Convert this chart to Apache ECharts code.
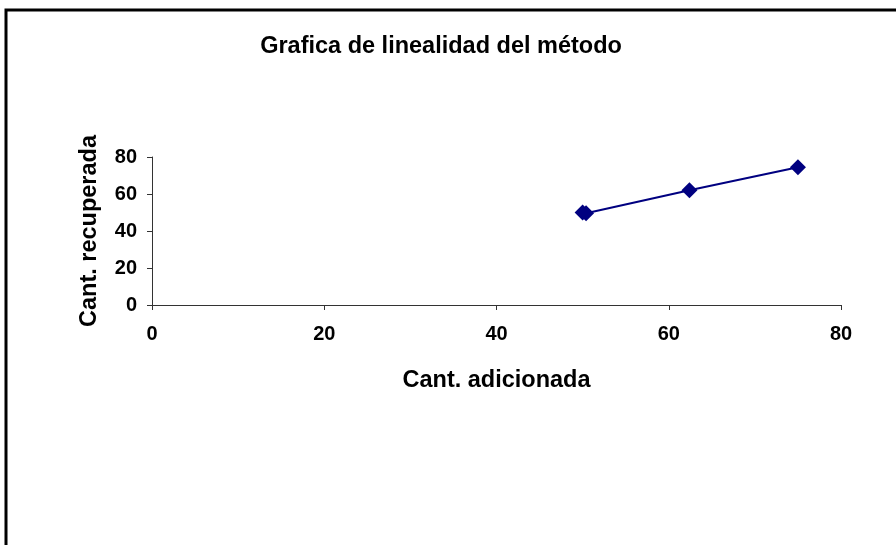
<!DOCTYPE html>
<html>
<head>
<meta charset="utf-8">
<script src="https://cdn.jsdelivr.net/npm/echarts@6/dist/echarts.min.js"></script>
<style>html,body{margin:0;padding:0;background:#fff}#c{width:896px;height:545px}</style>
</head>
<body>
<div id="c"></div>
<script>
var titleText = 'Grafica de linealidad del método';
var xName = 'Cant. adicionada';
var yName = 'Cant. recuperada';
var added = [50, 50.4, 62.4, 75];
var recovered = [50, 49.6, 62, 74.5];
var xTicks = {min: 0, max: 80, interval: 20};
var yTicks = {min: 0, max: 80, interval: 20};

var points = added.map(function (x, i) { return [x, recovered[i]]; });
var font = 'Arial, "Liberation Sans", sans-serif';
var chart = echarts.init(document.getElementById('c'), null, {renderer: 'canvas'});
chart.setOption({
  animation: false,
  backgroundColor: '#fff',
  title: {
    text: titleText, left: 436, top: 30, textAlign: 'center',
    textStyle: {fontFamily: font, fontSize: 23.5, fontWeight: 'bold', color: '#000'}
  },
  graphic: [{
    type: 'rect', shape: {x: 6, y: 10, width: 1000, height: 1000},
    style: {fill: 'none', stroke: '#000', lineWidth: 3}, silent: true, z: 100
  }],
  grid: {left: 152, right: 55, top: 157, bottom: 240, containLabel: false},
  xAxis: {
    type: 'value', min: xTicks.min, max: xTicks.max, interval: xTicks.interval,
    name: xName, nameLocation: 'middle', nameGap: 64,
    nameTextStyle: {fontFamily: font, fontSize: 23.5, fontWeight: 'bold', color: '#000'},
    axisLine: {show: true, lineStyle: {color: '#333', width: 1}},
    axisTick: {show: true, length: 5, inside: false, lineStyle: {color: '#333'}},
    axisLabel: {fontFamily: font, fontSize: 20, fontWeight: 'bold', color: '#000', margin: 19},
    splitLine: {show: false}
  },
  yAxis: {
    type: 'value', min: yTicks.min, max: yTicks.max, interval: yTicks.interval,
    name: yName, nameLocation: 'middle', nameGap: 50, nameRotate: 90,
    nameTextStyle: {fontFamily: font, fontSize: 23.5, fontWeight: 'bold', color: '#000'},
    axisLine: {show: true, lineStyle: {color: '#333', width: 1}},
    axisTick: {show: true, length: 5, inside: false, lineStyle: {color: '#333'}},
    axisLabel: {fontFamily: font, fontSize: 20, fontWeight: 'bold', color: '#000', margin: 15},
    splitLine: {show: false}
  },
  series: [{
    type: 'line', data: points,
    symbol: 'diamond', symbolSize: 16,
    itemStyle: {color: '#000080'},
    lineStyle: {color: '#000080', width: 2}
  }]
});
</script>
</body>
</html>
